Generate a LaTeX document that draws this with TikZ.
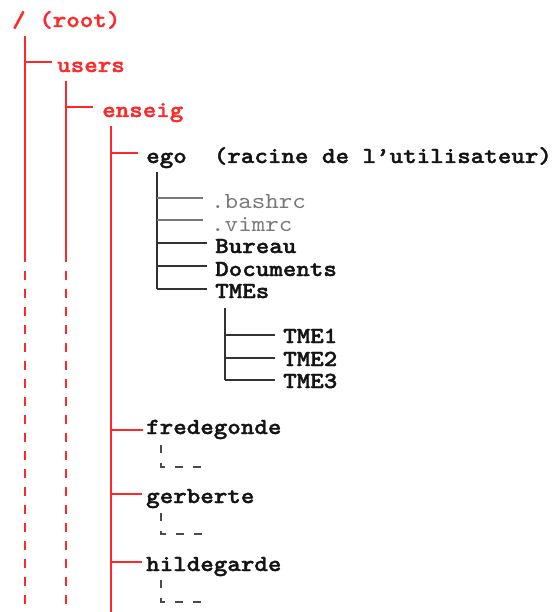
\documentclass[tikz,border=0pt]{standalone}
\usepackage{fontspec}
\usetikzlibrary{calc}
\definecolor{treered}{RGB}{255,40,40}
\definecolor{inkdark}{RGB}{20,20,20}
\definecolor{linedark}{RGB}{50,50,50}
\definecolor{softgrey}{RGB}{120,120,120}
\definecolor{dotgrey}{RGB}{75,75,75}
% widened typewriter faces for the labels
\newfontfamily\treebold{lmmonolt10-bold.otf}[FakeStretch=1.12, FakeBold=1.6]
\newfontfamily\treeplain{lmmono10-regular.otf}[FakeStretch=1.12]
\begin{document}
\begin{tikzpicture}[x=1pt,y=-1pt,
  entry/.style={anchor=base west, inner sep=0pt,
    font=\fontsize{23}{23}\treebold, text=inkdark},
  reddir/.style={entry, text=treered},
  hidden/.style={entry, font=\fontsize{23}{23}\treeplain, text=softgrey},
  redline/.style={draw=treered, line width=2.2pt},
  redtrail/.style={draw=treered, line width=2.2pt, dash pattern=on 9pt off 9pt},
  darkline/.style={draw=linedark, line width=2pt},
  thinline/.style={draw=softgrey, line width=1.2pt},
  moreline/.style={draw=dotgrey, line width=1.8pt, dash pattern=on 8pt off 10pt}]
\useasboundingbox (0,0) rectangle (551,612);
\coordinate (bottom) at (0,612);

% labels
\node[reddir] (root) at (12,27) {/ (root)};
\node[reddir] (users) at (57,72) {users};
\node[reddir] (enseig) at (102,117) {enseig};
\node[entry] (ego) at (146,163) {ego~~(racine de l’utilisateur)};
\node[hidden] (bashrc) at (211,208) {.bashrc};
\node[hidden] (vimrc) at (211,231) {.vimrc};
\node[entry] (bureau) at (215,253) {Bureau};
\node[entry] (documents) at (215,276) {Documents};
\node[entry] (tmes) at (215,298) {TMEs};
\node[entry] (tme1) at (283,343) {TME1};
\node[entry] (tme2) at (283,366) {TME2};
\node[entry] (tme3) at (283,388) {TME3};
\node[entry] (fredegonde) at (146,434) {fredegonde};
\node[entry] (gerberte) at (146,503) {gerberte};
\node[entry] (hildegarde) at (146,571) {hildegarde};

% trunk tops
\coordinate (v1) at ($(root.base west)+(13,9)$);
\coordinate (v2) at ($(users.base west)+(9,9)$);
\coordinate (v3) at ($(enseig.base west)+(9,9)$);
\coordinate (v4) at ($(ego.base west)+(11,9)$);
\coordinate (v5) at ($(tmes.base west)+(10,10)$);

% branch ends
\coordinate (users-in) at ($(users.base west)+(-5,-10)$);
\coordinate (enseig-in) at ($(enseig.base west)+(-9,-10)$);
\coordinate (ego-in) at ($(ego.base west)+(-8,-10)$);
\coordinate (bashrc-in) at ($(bashrc.base west)+(-8,-10)$);
\coordinate (vimrc-in) at ($(vimrc.base west)+(-8,-11)$);
\coordinate (bureau-in) at ($(bureau.base west)+(-8,-10)$);
\coordinate (documents-in) at ($(documents.base west)+(-8,-10)$);
\coordinate (tmes-in) at ($(tmes.base west)+(-8,-9)$);
\coordinate (tme1-in) at ($(tme1.base west)+(-8,-8)$);
\coordinate (tme2-in) at ($(tme2.base west)+(-8,-8)$);
\coordinate (tme3-in) at ($(tme3.base west)+(-8,-8)$);
\coordinate (fredegonde-in) at ($(fredegonde.base west)+(-3,-4)$);
\coordinate (gerberte-in) at ($(gerberte.base west)+(-4,-9)$);
\coordinate (hildegarde-in) at ($(hildegarde.base west)+(-4,-9)$);

% red trunks: the outer two fade into dashes
\draw[redline] (v1) -- (v1 |- 0,262);
\draw[redtrail] (v1 |- 0,271) -- (v1 |- bottom);
\draw[redline] (v2) -- (v2 |- 0,262);
\draw[redtrail] (v2 |- 0,271) -- (v2 |- bottom);
\draw[redline] (v3) -- (v3 |- bottom);

% red branches
\draw[redline] (v1 |- users-in) -- (users-in);
\draw[redline] (v2 |- enseig-in) -- (enseig-in);
\draw[redline] (v3 |- ego-in) -- (ego-in);
\draw[redline] (v3 |- fredegonde-in) -- (fredegonde-in);
\draw[redline] (v3 |- gerberte-in) -- (gerberte-in);
\draw[redline] (v3 |- hildegarde-in) -- (hildegarde-in);

% home directory contents
\draw[darkline] (v4) -- (v4 |- tmes-in);
\draw[thinline] (v4 |- bashrc-in) -- (bashrc-in);
\draw[thinline] (v4 |- vimrc-in) -- (vimrc-in);
\draw[darkline] (v4 |- bureau-in) -- (bureau-in);
\draw[darkline] (v4 |- documents-in) -- (documents-in);
\draw[darkline] (v4 |- tmes-in) -- (tmes-in);

\draw[darkline] (v5) -- (v5 |- tme3-in);
\draw[darkline] (v5 |- tme1-in) -- (tme1-in);
\draw[darkline] (v5 |- tme2-in) -- (tme2-in);
\draw[darkline] (v5 |- tme3-in) -- (tme3-in);

% elided contents of the other homes
\draw[moreline] ($(fredegonde.base west)+(15,11)$) -- ++(0,22) -- ++(42,0);
\draw[moreline] ($(gerberte.base west)+(15,10)$) -- ++(0,21) -- ++(42,0);
\draw[moreline] ($(hildegarde.base west)+(15,9)$) -- ++(0,22) -- ++(42,0);
\end{tikzpicture}
\end{document}
